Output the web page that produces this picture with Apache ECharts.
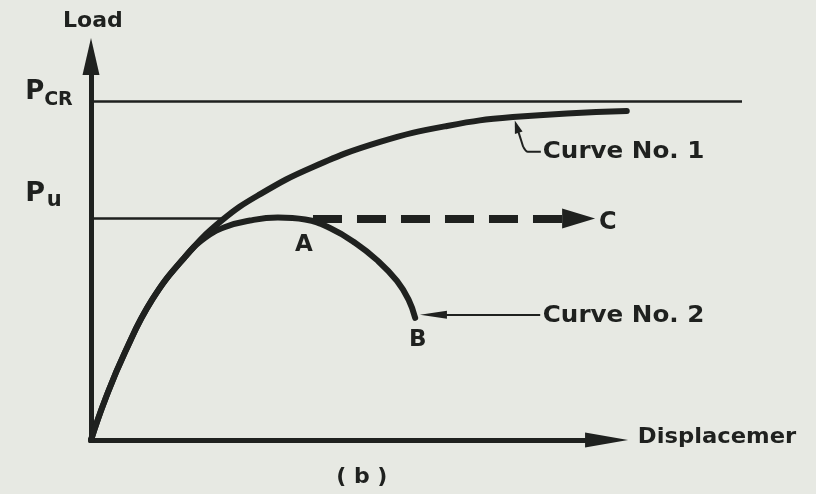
<!DOCTYPE html>
<html>
<head>
<meta charset="utf-8">
<script src="https://cdn.jsdelivr.net/npm/echarts@6/dist/echarts.min.js"></script>
<style>
  html, body { margin: 0; padding: 0; background: #e7e9e3; }
  #chart { width: 816px; height: 494px; }
</style>
</head>
<body>
<div id="chart"></div>
<script>
// Load–displacement curves (schematic, load normalised so P_CR = 100)
const curve1Disp = [0, 2.15, 5.22, 9.37, 14.4, 20.0, 26.0, 34.1, 44.4, 54.7, 64.8, 82.3];
const curve1Load = [0, 11.8, 25.9, 41.3, 53.9, 64.6, 72.5, 80.5, 87.9, 92.6, 95.2, 97.0];

const curve2Disp = [0, 2.15, 5.22, 9.37, 14.4, 17.5, 20.6, 24.4, 28.7, 32.9, 36.7, 40.6, 43.9, 47.0, 48.8, 49.8];
const curve2Load = [0, 11.8, 25.9, 41.3, 53.9, 59.6, 62.8, 64.7, 65.6, 65.0, 62.5, 58.1, 53.1, 46.9, 41.3, 36.0];

// Reference load levels
const P_CR = 100;
const P_U = 65.5;
const pcrLineEnd = 100;     // displacement where the P_CR line stops
const puLineEnd = 20.5;     // P_u line runs up to Curve No. 1

// Constant-load path A -> C (dashed, with arrow)
const pathAC = [34.1, 74.9];   // displacement start / arrow centre
const loadAC = 65.3;

// Axis extents (arrow centres)
const dispAxisEnd = 79.2;
const loadAxisEnd = 113.1;

// Leader to Curve No. 1 and pointer to Curve No. 2
const leader1Disp = [65.4, 66.4, 67.1, 69.1];
const leader1Load = [92.4, 86.4, 85.0, 85.0];
const pointer2Disp = [69.0, 52.6];
const pointer2Load = 36.9;

const INK = '#1f211f';
const FONT = "'DejaVu Sans', sans-serif";

const zip = (xs, ys) => xs.map((x, i) => [x, ys[i]]);

const chart = echarts.init(document.getElementById('chart'), null, { renderer: 'canvas' });

const curveStyle = { color: INK, width: 6, cap: 'round', join: 'round' };

const option = {
  backgroundColor: '#e7e9e3',
  animation: false,
  grid: { left: 91, right: 74, top: 33, bottom: 54 },
  xAxis: { type: 'value', min: 0, max: 100, show: false },
  yAxis: { type: 'value', min: 0, max: 120, show: false },
  series: [
    {
      name: 'Curve No. 1',
      type: 'line',
      data: zip(curve1Disp, curve1Load),
      smooth: 0.45,
      showSymbol: false,
      clip: false,
      lineStyle: curveStyle,
      z: 5
    },
    {
      name: 'Curve No. 2',
      type: 'line',
      data: zip(curve2Disp, curve2Load),
      smooth: 0.45,
      showSymbol: false,
      clip: false,
      lineStyle: curveStyle,
      z: 5
    },
    {
      // axes, load levels and arrows
      name: 'frame',
      type: 'line',
      data: [],
      markLine: {
        silent: true,
        animation: false,
        label: { show: false },
        emphasis: { disabled: true },
        data: [
          [
            { coord: [0, 0], symbol: 'none' },
            { coord: [dispAxisEnd, 0], symbol: 'triangle', symbolSize: [15, 43],
              lineStyle: { color: INK, width: 5, type: 'solid', cap: 'square' } }
          ],
          [
            { coord: [0, 0], symbol: 'none' },
            { coord: [0, loadAxisEnd], symbol: 'triangle', symbolSize: [17, 37],
              lineStyle: { color: INK, width: 5, type: 'solid', cap: 'square' } }
          ],
          [
            { coord: [0, P_CR], symbol: 'none' },
            { coord: [pcrLineEnd, P_CR], symbol: 'none',
              lineStyle: { color: INK, width: 2.5, type: 'solid' } }
          ],
          [
            { coord: [0, P_U], symbol: 'none' },
            { coord: [puLineEnd, P_U], symbol: 'none',
              lineStyle: { color: INK, width: 2.5, type: 'solid' } }
          ],
          [
            { coord: [pathAC[0], loadAC], symbol: 'none' },
            { coord: [pathAC[1], loadAC], symbol: 'triangle', symbolSize: [20, 33],
              lineStyle: { color: INK, width: 8, type: [29, 15], cap: 'butt' } }
          ],
          [
            { coord: [pointer2Disp[0], pointer2Load], symbol: 'none' },
            { coord: [pointer2Disp[1], pointer2Load], symbol: 'triangle', symbolSize: [8, 27],
              lineStyle: { color: INK, width: 2, type: 'solid' } }
          ],
          [
            { coord: [leader1Disp[1], leader1Load[1]], symbol: 'none' },
            { coord: [leader1Disp[0], leader1Load[0]], symbol: 'triangle', symbolSize: [8, 13],
              lineStyle: { color: INK, width: 2, type: 'solid' } }
          ]
        ]
      },
      z: 4
    },
    {
      name: 'leader',
      type: 'line',
      data: zip(leader1Disp.slice(1), leader1Load.slice(1)),
      smooth: 0.3,
      showSymbol: false,
      clip: false,
      lineStyle: { color: INK, width: 2 },
      z: 4
    }
  ]
};

chart.setOption(option);

// Text labels anchored in data coordinates
const labels = [
  { text: 'Load',        at: [-4.3, 123.4], size: 22, align: 'left' },
  { text: 'P',           at: [-10.1, 102.6], size: 26, align: 'left' },
  { text: 'CR',          at: [-7.2, 100.1], size: 19, align: 'left' },
  { text: 'P',           at: [-10.1, 72.5], size: 27, align: 'left' },
  { text: 'u',           at: [-6.8, 70.7], size: 21, align: 'left' },
  { text: 'A',           at: [32.7, 57.5], size: 23, align: 'center' },
  { text: 'B',           at: [50.2, 29.5], size: 23, align: 'center' },
  { text: 'C',           at: [79.4, 64.0], size: 24, align: 'center' },
  { text: 'Curve No. 1', at: [69.4, 84.8], size: 23, align: 'left', sx: 1.07 },
  { text: 'Curve No. 2', at: [69.4, 36.6], size: 23, align: 'left', sx: 1.07 },
  { text: 'Displacemer', at: [84.0, 0.74], size: 21, align: 'left', sx: 1.08 },
  { text: '( b )',       at: [41.6, -10.9], size: 22, align: 'center' }
];

chart.setOption({
  graphic: labels.map(l => {
    const p = chart.convertToPixel({ xAxisIndex: 0, yAxisIndex: 0 }, l.at);
    return {
      type: 'text',
      x: p[0],
      y: p[1],
      scaleX: l.sx || 1,
      silent: true,
      style: {
        text: l.text,
        font: `bold ${l.size}px ${FONT}`,
        fill: INK,
        textAlign: l.align,
        textVerticalAlign: 'middle',
        verticalAlign: 'middle'
      }
    };
  })
});
</script>
</body>
</html>
